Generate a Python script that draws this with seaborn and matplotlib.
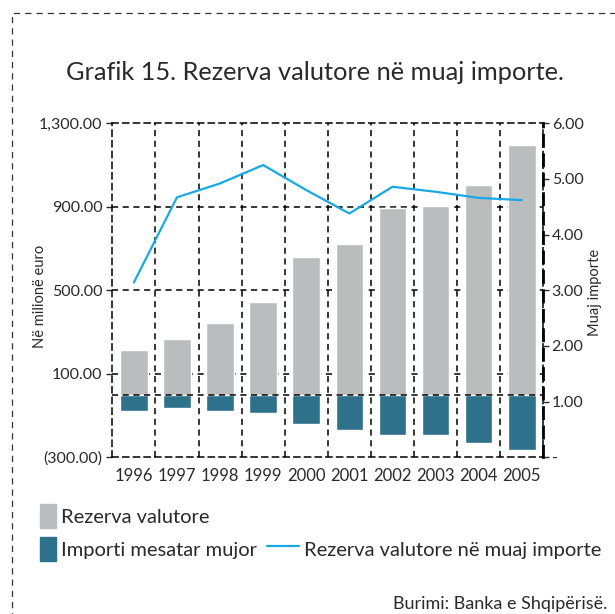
import seaborn as sns
import matplotlib.pyplot as plt
import matplotlib.ticker as mticker
from matplotlib.patches import Patch, Rectangle
from matplotlib.lines import Line2D
import numpy as np
import pandas as pd

sns.set_style("white")
plt.rcParams["font.family"] = ["Lato", "DejaVu Sans"]

# data
years = ["1996", "1997", "1998", "1999", "2000", "2001", "2002", "2003", "2004", "2005"]
reserves = [216, 268, 345, 445, 661, 723, 894, 905, 1006, 1197]          # million euro
monthly_imports = [-77, -66, -77, -90, -142, -168, -192, -192, -230, -267]  # million euro (shown negative)
months_of_imports = [3.14, 4.67, 4.92, 5.25, 4.80, 4.38, 4.86, 4.77, 4.66, 4.62]

left_ticks = [-300, 100, 500, 900, 1300]
right_ticks = [0, 1, 2, 3, 4, 5, 6]

gray = "#BBBCBE"
teal = "#2E718A"
cyan = "#17A9E6"
txt = "#2A2A2A"
dash = (0, (4, 3))

df = pd.DataFrame({"year": years, "reserves": reserves, "imports": monthly_imports,
                   "months": months_of_imports})

fig = plt.figure(figsize=(6.15, 6.14), dpi=100)
ax = fig.add_axes([112.3 / 615, 1 - 457.3 / 614, 431 / 615, 334 / 614])

# gridlines (behind bars)
for v in left_ticks[1:-1]:
    ax.axhline(v, color="black", lw=1.1, ls=dash, zorder=0)
for b in np.arange(0.5, 9.5, 1):
    ax.axvline(b, color="black", lw=1.1, ls=dash, zorder=0)

sns.barplot(data=df, x="year", y="reserves", color=gray, saturation=1, width=0.64, ax=ax, zorder=2)
sns.barplot(data=df, x="year", y="imports", color=teal, saturation=1, width=0.64, ax=ax, zorder=2)
ax.axhline(0, color="black", lw=1.1, ls=dash, zorder=3)

ax.set_xlim(-0.5, 9.5)
ax.set_ylim(-300, 1300)
ax.set_yticks(left_ticks)
ax.yaxis.set_major_formatter(mticker.FuncFormatter(
    lambda v, p: f"({abs(v):,.2f})" if v < 0 else f"{v:,.2f}"))
ax.set_xlabel("")
ax.set_ylabel("")
ax.tick_params(axis="y", left=True, length=4, width=1, labelsize=11.5, colors=txt, pad=3)
ax.tick_params(axis="x", bottom=False, labelsize=12, colors=txt, pad=4)
for s in ax.spines.values():
    s.set_linestyle(dash)
    s.set_linewidth(1.1)
    s.set_color("black")

ax2 = ax.twinx()
sns.lineplot(x=np.arange(len(years)), y=months_of_imports, color=cyan, lw=1.6, ax=ax2)
ax2.set_ylim(0, 6)
ax2.set_yticks(right_ticks)
ax2.yaxis.set_major_formatter(mticker.FuncFormatter(lambda v, p: "-" if v == 0 else f"{v:.2f}"))
ax2.set_ylabel("")
ax2.tick_params(axis="y", right=True, length=4, width=1, labelsize=11.5, colors=txt, pad=2)
for s in ax2.spines.values():
    s.set_visible(False)
ax2.spines["right"].set_visible(True)
ax2.spines["right"].set_linestyle(dash)
ax2.spines["right"].set_linewidth(2)
ax2.spines["right"].set_color("black")

fig.text(40 / 615, 1 - 296 / 614, "Në milionë euro", rotation=90, ha="center", va="center",
         fontsize=10.5, color=txt)
fig.text(595 / 615, 1 - 292 / 614, "Muaj importe", rotation=90, ha="center", va="center",
         fontsize=10.5, color=txt)

fig.text(315 / 615, 1 - 72 / 614, "Grafik 15. Rezerva valutore në muaj importe.",
         ha="center", va="center", fontsize=18.3, color=txt)

leg_kw = dict(frameon=False, fontsize=14.5, handleheight=1.5, handletextpad=0.25,
              borderpad=0, borderaxespad=0, labelcolor=txt, loc="center left")
fig.legend(handles=[Patch(color=gray, label="Rezerva valutore")],
           bbox_to_anchor=(40 / 615, 1 - 516 / 614), handlelength=0.8, **leg_kw)
fig.legend(handles=[Patch(color=teal, label="Importi mesatar mujor")],
           bbox_to_anchor=(40 / 615, 1 - 549 / 614), handlelength=0.8, **leg_kw)
fig.legend(handles=[Line2D([], [], color=cyan, lw=1.6, label="Rezerva valutore në muaj importe")],
           bbox_to_anchor=(267 / 615, 1 - 549 / 614), handlelength=1.6, **leg_kw)

fig.text(607 / 615, 1 - 604 / 614, "Burimi: Banka e Shqipërisë.", ha="right", va="center",
         fontsize=13, color=txt)

fig.add_artist(Rectangle((12 / 615, -0.1), 1.2, 1.1 - 13 / 614, transform=fig.transFigure,
                         fill=False, ls=(0, (5, 4)), lw=0.9, edgecolor="#333333"))

fig.savefig("out.png", dpi=100)
plt.close()
